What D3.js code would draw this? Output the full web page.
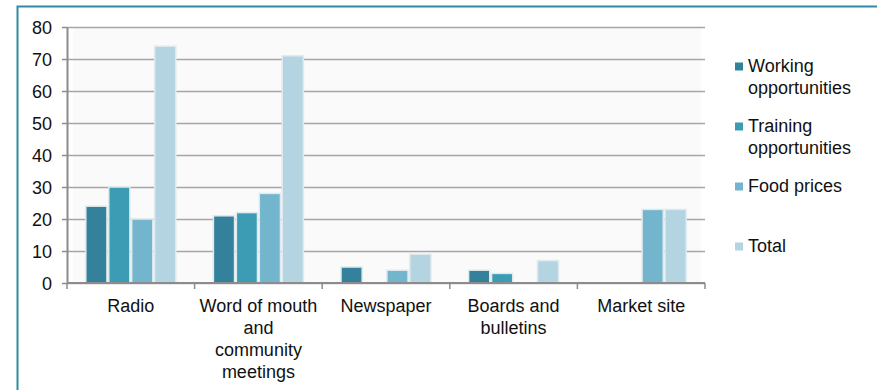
<!DOCTYPE html>
<html>
<head>
<meta charset="utf-8">
<script src="https://cdn.jsdelivr.net/npm/d3@7"></script>
<style>
  body { margin: 0; background: #fff; }
  text { font-family: "Liberation Sans", Arial, sans-serif; fill: #111; }
</style>
</head>
<body>
<script>
// categories and series
var categories = [["Radio"], ["Word of mouth", "and", "community", "meetings"], ["Newspaper"], ["Boards and", "bulletins"], ["Market site"]];
var seriesNames = [["Working", "opportunities"], ["Training", "opportunities"], ["Food prices"], ["Total"]];
var working = [24, 21, 5, 4, 0];
var training = [30, 22, 0, 3, 0];
var food = [20, 28, 4, 0, 23];
var total = [74, 71, 9, 7, 23];
var yTicks = [0, 10, 20, 30, 40, 50, 60, 70, 80];
var colors = ["#33819a", "#3b9cb4", "#72b5cc", "#b4d4e1"];

var series = [working, training, food, total];

var W = 877, H = 390;
var margin = { top: 27, left: 67, right: 172, bottom: 107 };
var plotW = W - margin.left - margin.right,
    plotH = H - margin.top - margin.bottom;

var svg = d3.select("body").append("svg")
    .attr("width", W)
    .attr("height", H);

// frame round the figure
svg.append("path")
    .attr("d", "M17.5," + H + " V6.5 H" + W)
    .attr("fill", "none")
    .attr("stroke", "#2e8aa0")
    .attr("stroke-width", 2);

var g = svg.append("g")
    .attr("transform", "translate(" + margin.left + "," + margin.top + ")");

var x0 = d3.scaleBand()
    .domain(d3.range(categories.length))
    .range([0, plotW])
    .paddingInner(0.295)
    .paddingOuter(0.1475);

var x1 = d3.scaleBand()
    .domain(d3.range(series.length))
    .range([0, x0.bandwidth()])
    .paddingInner(0.08);

var y = d3.scaleLinear().domain([0, 80]).range([plotH, 0]);

// faint plot background
g.append("rect")
    .attr("x", 6).attr("y", 0)
    .attr("width", plotW - 10).attr("height", plotH)
    .attr("fill", "#fafafa");

// gridlines
g.append("g")
    .call(d3.axisLeft(y).tickValues(yTicks).tickSize(-plotW).tickFormat(""))
    .call(function(a) {
        a.select(".domain").remove();
        a.selectAll("line").attr("stroke", "#a6a6a6").attr("stroke-width", 1.6);
    });

// y axis
var yAxis = g.append("g")
    .call(d3.axisLeft(y).tickValues(yTicks).tickSize(5).tickPadding(10).tickSizeOuter(0));
yAxis.select(".domain").attr("stroke", "#8c8c8c").attr("stroke-width", 2);
yAxis.selectAll("line").attr("stroke", "#8c8c8c").attr("stroke-width", 1.5);
yAxis.selectAll("text")
    .attr("font-size", "18px")
    .attr("dy", "0.34em")
    .style("font-family", "Liberation Sans, Arial, sans-serif")
    .attr("fill", "#111");

// bars
var groups = g.selectAll("g.cat")
    .data(categories)
    .enter()
    .append("g")
    .attr("class", "cat")
    .attr("transform", function(d, i) { return "translate(" + x0(i) + ",0)"; });

groups.selectAll("rect")
    .data(function(d, i) {
        return series.map(function(s, j) { return { s: j, v: s[i] }; });
    })
    .enter()
    .append("rect")
    .filter(function(d) { return d.v > 0; })
    .attr("x", function(d) { return x1(d.s); })
    .attr("y", function(d) { return y(d.v); })
    .attr("width", x1.bandwidth())
    .attr("height", function(d) { return plotH - y(d.v); })
    .attr("fill", function(d) { return colors[d.s]; })
    .attr("stroke", "#dfeaef")
    .attr("stroke-width", 1.5);

// x axis line with ticks at category boundaries
var xAxis = g.append("g").attr("transform", "translate(0," + plotH + ")");
xAxis.append("line")
    .attr("x1", 0).attr("x2", plotW)
    .attr("stroke", "#8c8c8c").attr("stroke-width", 2);
xAxis.selectAll("line.tick")
    .data(d3.range(categories.length + 1))
    .enter()
    .append("line")
    .attr("class", "tick")
    .attr("x1", function(d) { return d * x0.step(); })
    .attr("x2", function(d) { return d * x0.step(); })
    .attr("y1", 0).attr("y2", 6)
    .attr("stroke", "#8c8c8c").attr("stroke-width", 1.5);

// category labels
var labels = xAxis.selectAll("text.cat")
    .data(categories)
    .enter()
    .append("text")
    .attr("class", "cat")
    .attr("text-anchor", "middle")
    .attr("font-size", "18px")
    .attr("x", function(d, i) { return x0(i) + x0.bandwidth() / 2; })
    .attr("y", 28.5);
labels.selectAll("tspan")
    .data(function(d) { return d; })
    .enter()
    .append("tspan")
    .attr("x", function() { return d3.select(this.parentNode).attr("x"); })
    .attr("dy", function(d, i) { return i === 0 ? 0 : 22; })
    .text(function(d) { return d; });

// legend
var legend = svg.append("g").attr("transform", "translate(735,0)");
var items = legend.selectAll("g")
    .data(seriesNames)
    .enter()
    .append("g")
    .attr("transform", function(d, i) { return "translate(0," + (71.5 + i * 60) + ")"; });
items.append("rect")
    .attr("x", 0).attr("y", -9)
    .attr("width", 8).attr("height", 8)
    .attr("fill", function(d, i) { return colors[i]; });
var lt = items.append("text")
    .attr("x", 13)
    .attr("font-size", "18px");
lt.selectAll("tspan")
    .data(function(d) { return d; })
    .enter()
    .append("tspan")
    .attr("x", 13)
    .attr("dy", function(d, i) { return i === 0 ? 0 : 22; })
    .text(function(d) { return d; });
</script>
</body>
</html>
